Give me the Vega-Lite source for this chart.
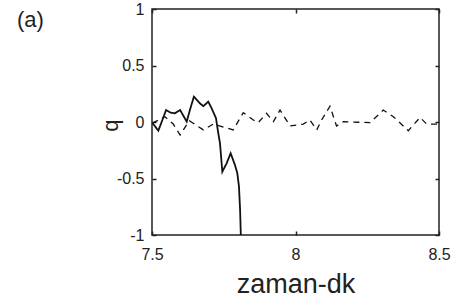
{
  "$schema": "https://vega.github.io/schema/vega-lite/v6.json",
  "width": 287,
  "height": 226,
  "autosize": {"type": "none"},
  "padding": {"left": 152, "top": 9, "right": 16, "bottom": 66},
  "background": "white",
  "title": {"text": "(a)", "anchor": "start", "frame": "group", "fontSize": 22, "font": "Liberation Sans", "fontWeight": "normal", "color": "#222", "dx": -135, "dy": 31, "offset": 0},
  "config": {
    "view": {"stroke": "#222", "strokeWidth": 1.5},
    "axis": {"domain": false, "grid": false, "tickColor": "#222", "tickSize": -4, "tickWidth": 1.5, "labelFont": "Liberation Sans", "labelFontSize": 16, "labelColor": "#222", "titleFont": "Liberation Sans", "titleFontWeight": "normal", "titleColor": "#222", "labelExpr": "'' + datum.value"}
  },
  "datasets": {
    "d": [
      {"t": 7.502, "q": -0.01, "s": "a"},
      {"t": 7.522, "q": -0.077, "s": "a"},
      {"t": 7.534, "q": 0.003, "s": "a"},
      {"t": 7.549, "q": 0.106, "s": "a"},
      {"t": 7.565, "q": 0.083, "s": "a"},
      {"t": 7.58, "q": 0.077, "s": "a"},
      {"t": 7.598, "q": 0.106, "s": "a"},
      {"t": 7.621, "q": 0.003, "s": "a"},
      {"t": 7.632, "q": 0.106, "s": "a"},
      {"t": 7.646, "q": 0.224, "s": "a"},
      {"t": 7.667, "q": 0.165, "s": "a"},
      {"t": 7.679, "q": 0.14, "s": "a"},
      {"t": 7.696, "q": 0.18, "s": "a"},
      {"t": 7.708, "q": 0.12, "s": "a"},
      {"t": 7.723, "q": 0.033, "s": "a"},
      {"t": 7.731, "q": -0.1, "s": "a"},
      {"t": 7.737, "q": -0.19, "s": "a"},
      {"t": 7.745, "q": -0.44, "s": "a"},
      {"t": 7.76, "q": -0.366, "s": "a"},
      {"t": 7.774, "q": -0.277, "s": "a"},
      {"t": 7.789, "q": -0.38, "s": "a"},
      {"t": 7.797, "q": -0.45, "s": "a"},
      {"t": 7.803, "q": -0.57, "s": "a"},
      {"t": 7.807, "q": -0.78, "s": "a"},
      {"t": 7.81, "q": -1.05, "s": "a"},
      {"t": 7.502, "q": -0.01, "s": "b"},
      {"t": 7.545, "q": 0.047, "s": "b"},
      {"t": 7.574, "q": -0.018, "s": "b"},
      {"t": 7.598, "q": -0.115, "s": "b"},
      {"t": 7.63, "q": 0.012, "s": "b"},
      {"t": 7.679, "q": -0.07, "s": "b"},
      {"t": 7.714, "q": -0.018, "s": "b"},
      {"t": 7.783, "q": -0.07, "s": "b"},
      {"t": 7.818, "q": 0.083, "s": "b"},
      {"t": 7.853, "q": 0.018, "s": "b"},
      {"t": 7.87, "q": -0.006, "s": "b"},
      {"t": 7.899, "q": 0.077, "s": "b"},
      {"t": 7.923, "q": 0.003, "s": "b"},
      {"t": 7.946, "q": 0.106, "s": "b"},
      {"t": 7.981, "q": -0.035, "s": "b"},
      {"t": 8.027, "q": -0.018, "s": "b"},
      {"t": 8.05, "q": 0.018, "s": "b"},
      {"t": 8.074, "q": -0.07, "s": "b"},
      {"t": 8.091, "q": 0.018, "s": "b"},
      {"t": 8.12, "q": 0.14, "s": "b"},
      {"t": 8.143, "q": -0.035, "s": "b"},
      {"t": 8.167, "q": 0.003, "s": "b"},
      {"t": 8.26, "q": -0.006, "s": "b"},
      {"t": 8.306, "q": 0.106, "s": "b"},
      {"t": 8.341, "q": 0.047, "s": "b"},
      {"t": 8.393, "q": -0.077, "s": "b"},
      {"t": 8.434, "q": 0.04, "s": "b"},
      {"t": 8.457, "q": -0.018, "s": "b"},
      {"t": 8.5, "q": -0.018, "s": "b"}
    ]
  },
  "data": {"name": "d"},
  "resolve": {"axis": {"x": "independent", "y": "independent"}},
  "layer": [
    {
      "mark": {"type": "line", "clip": true, "color": "#111"},
      "encoding": {
        "x": {"field": "t", "type": "quantitative", "scale": {"domain": [7.5, 8.5], "nice": false, "zero": false},
              "axis": {"orient": "bottom", "values": [7.5, 8, 8.5], "title": "zaman-dk", "titleFontSize": 27, "labelPadding": 15, "titleBaseline": "alphabetic", "titleY": 57, "labelFlush": false}},
        "y": {"field": "q", "type": "quantitative", "scale": {"domain": [-1, 1], "nice": false, "zero": false},
              "axis": {"orient": "left", "values": [-1, -0.5, 0, 0.5, 1], "title": "q", "titleFontSize": 22, "labelPadding": 12, "titleX": -42, "titleY": 116, "titleBaseline": "middle", "labelFlush": false}},
        "detail": {"field": "s"},
        "strokeDash": {"field": "s", "type": "nominal", "scale": {"domain": ["a", "b"], "range": [[1, 0], [6, 5]]}, "legend": null},
        "strokeWidth": {"field": "s", "type": "nominal", "scale": {"domain": ["a", "b"], "range": [1.8, 1.3]}, "legend": null}
      }
    },
    {
      "mark": {"type": "point", "opacity": 0},
      "encoding": {
        "x": {"field": "t", "type": "quantitative", "axis": {"orient": "top", "values": [7.5, 8, 8.5], "labels": false, "title": null}},
        "y": {"field": "q", "type": "quantitative", "axis": {"orient": "right", "values": [-1, -0.5, 0, 0.5, 1], "labels": false, "title": null}}
      }
    }
  ]
}
